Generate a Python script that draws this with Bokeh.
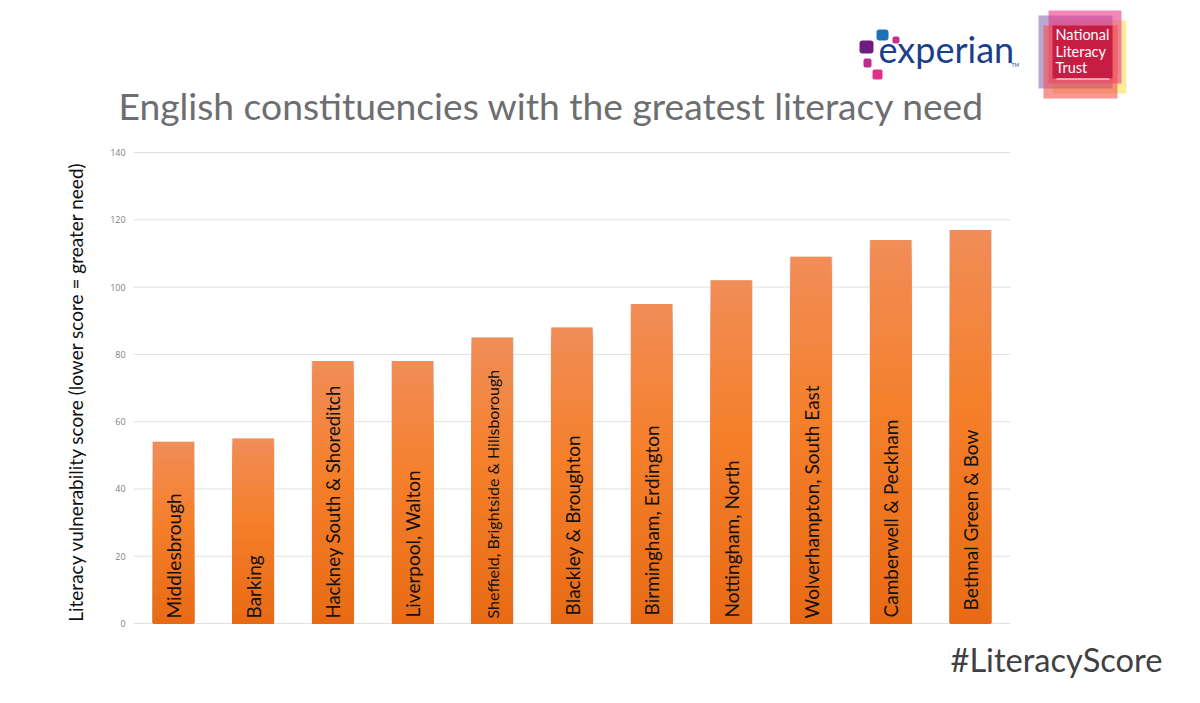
from bokeh.plotting import figure
from bokeh.models import Label, BoxAnnotation, ColumnDataSource, FixedTicker, Range1d, LinearAxis
from bokeh.embed import file_html
from bokeh.resources import INLINE

categories = ["Middlesbrough", "Barking", "Hackney South & Shoreditch", "Liverpool, Walton",
              "Sheffield, Brightside & Hillsborough", "Blackley & Broughton", "Birmingham, Erdington",
              "Nottingham, North", "Wolverhampton, South East", "Camberwell & Peckham", "Bethnal Green & Bow"]
scores = [54, 55, 78, 78, 85, 88, 95, 102, 109, 114, 117]
y_ticks = [0, 20, 40, 60, 80, 100, 120, 140]
label_sizes = ["19px", "19px", "18.5px", "19px", "16px", "19px", "19px", "19px", "19px", "19px", "19px"]
label_starts = [1.5, 1.5, 1.5, 1.8, 1.5, 2.4, 2.4, 1.8, 1.5, 1.8, 3.9]
title_text = "English constituencies with the greatest literacy need"
y_title = "Literacy vulnerability score (lower score = greater need)"
hashtag = "#LiteracyScore"

W, H = 1200, 703
Y0, YU = 623.0, 3.364   # pixel of value 0, pixels per unit
X0, XU = 173.0, 79.7    # pixel of first bar centre, pixels per bar
xs = list(range(len(categories)))

p = figure(width=W, height=H,
           x_range=Range1d(-X0 / XU, (W - X0) / XU),
           y_range=Range1d(-(H - Y0) / YU, Y0 / YU),
           output_backend="svg", toolbar_location=None,
           x_axis_location=None, y_axis_location=None,
           min_border=0, min_border_left=0, min_border_right=0, min_border_top=0, min_border_bottom=0)
p.outline_line_color = None
p.background_fill_color = "white"
p.grid.visible = False

p.segment(x0=[-0.5] * len(y_ticks), x1=[len(xs) - 0.5] * len(y_ticks), y0=y_ticks, y1=y_ticks,
          line_color="#E0E0E0", line_width=1)

ax = LinearAxis(fixed_location=-0.5, ticker=FixedTicker(ticks=y_ticks), bounds=(-2, 140))
ax.axis_line_color = None
ax.major_tick_line_color = None
ax.minor_tick_line_color = None
ax.major_tick_in = 0
ax.major_tick_out = 0
ax.major_label_text_font = "Open Sans"
ax.major_label_text_font_size = "9px"
ax.major_label_text_color = "#7F7F7F"
ax.major_label_standoff = 8
ax.axis_label = y_title
ax.axis_label_text_font = "Lato"
ax.axis_label_text_font_style = "normal"
ax.axis_label_text_font_size = "19px"
ax.axis_label_text_color = "#111111"
ax.axis_label_standoff = 20
p.add_layout(ax, "left")

BAR = 0.515
# soft shadow behind the bars
p.vbar(x=xs, top=scores, width=BAR + 0.02, bottom=0, fill_color="#D9D4D0", line_color=None)

# vertical gradient painted back to front
stops = [(0.0, (232, 106, 20)), (0.55, (245, 127, 42)), (1.0, (241, 141, 88))]
def col(t):
    for (a, ca), (b, cb) in zip(stops, stops[1:]):
        if t <= b:
            f = (t - a) / (b - a)
            return "#%02x%02x%02x" % tuple(round(u + (v - u) * f) for u, v in zip(ca, cb))
    return "#%02x%02x%02x" % stops[-1][1]
N = 48
for i in range(N, 0, -1):
    f = i / N
    p.vbar(x=xs, top=[s * f for s in scores], width=BAR, bottom=0,
           fill_color=col(f - 0.5 / N), line_color=None)

src = ColumnDataSource(dict(x=xs, y=label_starts, t=categories, s=label_sizes))
p.text(x="x", y="y", text="t", source=src, angle=90, angle_units="deg",
       text_align="left", text_baseline="middle", text_font_size="s",
       text_font={"value": "Lato"}, text_color="#111111")

def box(l, t, r, b, color, alpha=1.0, radius=0):
    p.add_layout(BoxAnnotation(left=l, right=r, top=t, bottom=b,
                               left_units="canvas", right_units="canvas", top_units="canvas", bottom_units="canvas",
                               fill_color=color, fill_alpha=alpha, line_color=None, border_radius=radius))
def label(x, y, text, size, color, font="Lato"):
    # y is the wanted baseline; the label sits about 0.39 of its size lower
    p.add_layout(Label(x=x, y=y - 0.39 * size, x_units="canvas", y_units="canvas", text=text,
                       text_font=font, text_font_size=f"{size}px", text_color=color,
                       text_align="left", text_baseline="alphabetic"))

label(118, 120, title_text, 37.2, "#6D6E71")
label(950, 672, hashtag, 32.6, "#404042")

# Experian logo
box(876, 29, 888, 40, "#1D71B8", radius=3)
box(892, 36, 899, 43, "#C8308F", radius=2)
box(859, 40, 873, 53, "#6F1E7F", radius=3)
box(863, 58, 871, 67, "#BE2E8E", radius=2)
box(872, 69, 882, 79, "#E2308A", radius=2)
label(878, 63, "experian", 36, "#1B3F8B")
label(1011, 66, "TM", 5, "#1B3F8B")

# National Literacy Trust logo
box(1052, 20, 1126, 93, "#FFE680", 0.8)
box(1038, 15, 1112, 88, "#8E6BB0", 0.6)
box(1048, 10, 1121, 83, "#E8388A", 0.6)
box(1043, 25, 1117, 98, "#F0524F", 0.6)
box(1052, 25, 1112, 78, "#C4173F", 0.9)
label(1055, 40, "National", 14.5, "white")
label(1055, 57, "Literacy", 14.5, "white")
label(1055, 73, "Trust", 14.5, "white")
box(1056, 78, 1109, 79, "white")

open("out.html", "w").write(file_html(p, INLINE))
